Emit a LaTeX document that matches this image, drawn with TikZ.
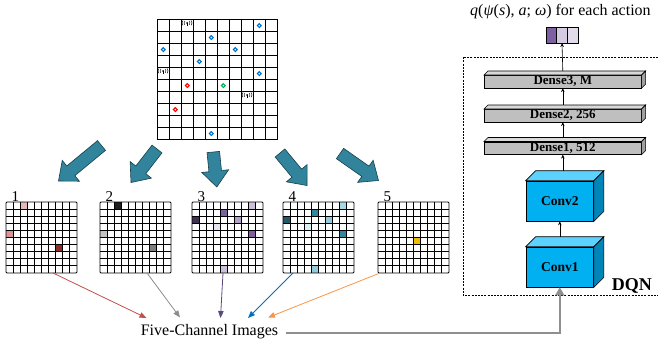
\documentclass[tikz,border=0pt]{standalone}
\usepackage{fontspec}
\setmainfont{Liberation Serif}
\usetikzlibrary{calc,arrows.meta}
\definecolor{tealarrow}{HTML}{31849B}
\definecolor{tealedge}{HTML}{17404B}
\definecolor{ringblue}{HTML}{0070C0}
\definecolor{ringred}{HTML}{FF0000}
\definecolor{ringgreen}{HTML}{00B050}
\definecolor{dfront}{HTML}{BFBFBF}
\definecolor{dtop}{HTML}{D9D9D9}
\definecolor{dside}{HTML}{A0A0A0}
\definecolor{cfront}{HTML}{00B0F0}
\definecolor{ctop}{HTML}{5CD2FF}
\definecolor{cside}{HTML}{0085B8}
\definecolor{lred}{HTML}{C0504D}
\definecolor{lgray}{HTML}{8C8C8C}
\definecolor{lpurple}{HTML}{5A4A7A}
\definecolor{lblue}{HTML}{0070C0}
\definecolor{lorange}{HTML}{F79646}
\definecolor{garrow}{HTML}{8F8F8F}
\definecolor{pA}{HTML}{E6B8B7}
\definecolor{pB}{HTML}{DA9694}
\definecolor{pC}{HTML}{8B2D2B}
\definecolor{gA}{HTML}{1E1E1E}
\definecolor{gB}{HTML}{C4C4C4}
\definecolor{gC}{HTML}{7F7F7F}
\definecolor{uA}{HTML}{CCC0DA}
\definecolor{uB}{HTML}{7E5FA2}
\definecolor{uC}{HTML}{403151}
\definecolor{uD}{HTML}{B3A2C7}
\definecolor{uE}{HTML}{E8E3F0}
\definecolor{tA}{HTML}{A8D8E6}
\definecolor{tB}{HTML}{31859C}
\definecolor{tC}{HTML}{215968}
\definecolor{tD}{HTML}{93CDDD}
\definecolor{tE}{HTML}{DCEFF4}
\definecolor{oA}{HTML}{F5B800}
\definecolor{vA}{HTML}{7E5FA2}
\definecolor{vB}{HTML}{D4CAE2}
\definecolor{vC}{HTML}{E2DBEC}
\tikzset{
  gridline/.style={line width=0.8pt},
  chline/.style={line width=0.9pt},
  blockarrow/.style={fill=tealarrow, draw=tealedge, line width=0.6pt, line join=miter},
  thinarrow/.style={line width=0.8pt, -{Triangle[length=7pt,width=5.5pt]}},
  dqnarrow/.style={line width=0.6pt, -{Stealth[length=4pt,width=3.5pt]}},
  ringmark/.style={line width=1.1pt},
  dense/.style={draw, fill=dfront, line width=0.6pt, minimum width=157pt, minimum height=12.5pt, inner sep=0pt, anchor=north west, font=\bfseries\fontsize{13}{13}\selectfont},
  convbox/.style={draw, fill=cfront, line width=0.6pt, minimum width=67.6pt, minimum height=40pt, inner sep=0pt, anchor=north west, font=\bfseries\fontsize{13.5}{13.5}\selectfont},
  chlabel/.style={anchor=base west, inner sep=0pt, font=\fontsize{15}{15}\selectfont},
}
\newcommand{\ringat}[3]{\draw[ringmark,#3] (157+#2*12+6.3, 19+#1*12+6.6) circle (1.9pt);}
\newcommand{\antennaat}[2]{%
  \begin{scope}[shift={(157+#2*12+6, 19+#1*12+4.2)}, line width=0.45pt]
    \fill (0,-0.3) circle (0.9pt);
    \draw (0,-0.3) -- (0,3.2);
    \draw (-2.2,-2.2) .. controls (-3.2,-0.3) .. (-2.2,1.6);
    \draw (-4,-2.8) .. controls (-5.4,-0.3) .. (-4,2.2);
    \draw (2.2,-2.2) .. controls (3.2,-0.3) .. (2.2,1.6);
    \draw (4,-2.8) .. controls (5.4,-0.3) .. (4,2.2);
  \end{scope}}
\newcommand{\cfill}[4]{\fill[#4] (#1+#3*7.1, 202+#2*7.1) rectangle ++(7.1,7.1);}
\newcommand{\chgrid}[2]{%
  \node[draw, chline, minimum width=71pt, minimum height=71pt, inner sep=0pt, outer sep=0pt, anchor=north west, rounded corners=1pt] (#1) at (#2,202) {};
  \foreach \i in {1,...,9} {
    \draw[chline] (#2+\i*7.1,202) -- (#2+\i*7.1,273);
    \draw[chline] (#2,202+\i*7.1) -- (#2+71,202+\i*7.1);
  }}
\newcommand{\tealarrow}[3]{%
  \coordinate (#1t) at #2;
  \coordinate (#1h) at #3;
  \coordinate (#1b) at ($(#1h)!16pt!(#1t)$);
  \path[blockarrow] ($(#1t)!6.3pt!90:(#1h)$) -- ($(#1b)!6.3pt!90:(#1h)$) -- ($(#1b)!13.5pt!90:(#1h)$) -- (#1h)
    -- ($(#1b)!13.5pt!-90:(#1h)$) -- ($(#1b)!6.3pt!-90:(#1h)$) -- ($(#1t)!6.3pt!-90:(#1h)$) -- cycle;}
\newcommand{\densebox}[3]{%
  \node[dense] (#1) at (484,#2) {#3};
  \draw[fill=dtop, line width=0.6pt] (#1.north west) -- ++(4,-4) -- ($(#1.north east)+(4,-4)$) -- (#1.north east) -- cycle;
  \draw[fill=dside, line width=0.6pt] (#1.north east) -- ++(4,-4) -- ($(#1.south east)+(4,-4)$) -- (#1.south east) -- cycle;}
\newcommand{\convcube}[3]{%
  \node[convbox] (#1) at (525.7,#2) {#3};
  \draw[fill=ctop, line width=0.6pt] (#1.north west) -- ++(10,-10) -- ($(#1.north east)+(10,-10)$) -- (#1.north east) -- cycle;
  \draw[fill=cside, line width=0.6pt] (#1.north east) -- ++(10,-10) -- ($(#1.south east)+(10,-10)$) -- (#1.south east) -- cycle;}
\begin{document}
\begin{tikzpicture}[x=1pt,y=-1pt]
\useasboundingbox (0,0) rectangle (658,345);
% ---------- environment grid ----------
\node[draw, gridline, minimum width=120pt, minimum height=120pt, inner sep=0pt, outer sep=0pt, anchor=north west] (env) at (157,19) {};
\foreach \i in {1,...,9} {
  \draw[gridline] (157+\i*12,19) -- (157+\i*12,139);
  \draw[gridline] (157,19+\i*12) -- (277,19+\i*12);
}
\antennaat{0}{2}
\antennaat{4}{0}
\antennaat{6}{7}
\ringat{0}{8}{ringblue}
\ringat{1}{4}{ringblue}
\ringat{2}{0}{ringblue}
\ringat{2}{6}{ringblue}
\ringat{3}{3}{ringblue}
\ringat{4}{8}{ringblue}
\ringat{9}{4}{ringblue}
\ringat{5}{2}{ringred}
\ringat{7}{1}{ringred}
\ringat{5}{5}{ringgreen}
% ---------- big teal arrows ----------
\tealarrow{a1}{(101.5,145.5)}{(58.5,181)}
\tealarrow{a2}{(157,149)}{(131,182.5)}
\tealarrow{a3}{(213.3,152)}{(216.8,187)}
\tealarrow{a4}{(280,153)}{(307,185.5)}
\tealarrow{a5}{(340,153.5)}{(378.5,180.5)}
% ---------- channel images ----------
\cfill{6}{0}{2}{pA}
\cfill{6}{4}{0}{pB}
\cfill{6}{6}{7}{pC}
\chgrid{ch1}{6}
\cfill{100}{0}{2}{gA}
\cfill{100}{4}{0}{gB}
\cfill{100}{6}{7}{gC}
\chgrid{ch2}{100}
\cfill{192}{0}{8}{uA}
\cfill{192}{1}{4}{uB}
\cfill{192}{2}{0}{uC}
\cfill{192}{2}{6}{uD}
\cfill{192}{3}{3}{uE}
\cfill{192}{4}{8}{uB}
\cfill{192}{9}{4}{uA}
\chgrid{ch3}{192}
\cfill{283}{0}{8}{tA}
\cfill{283}{1}{4}{tB}
\cfill{283}{2}{0}{tC}
\cfill{283}{2}{6}{tD}
\cfill{283}{3}{3}{tE}
\cfill{283}{4}{8}{tB}
\cfill{283}{9}{4}{tD}
\chgrid{ch4}{283}
\cfill{378}{5}{5}{oA}
\chgrid{ch5}{378}
\node[chlabel] (n1) at (11.5,201) {1};
\node[chlabel] (n2) at (105.5,201) {2};
\node[chlabel] (n3) at (197.5,201) {3};
\node[chlabel] (n4) at (288.5,201) {4};
\node[chlabel] (n5) at (383.5,201) {5};
% ---------- five-channel label and arrows ----------
\node[anchor=base, inner sep=0pt, font=\fontsize{16}{16}\selectfont] (fci) at (209.5,335) {Five-Channel Images};
\coordinate (e1) at (146.5,318);
\coordinate (e2) at (180,317.5);
\coordinate (e3) at (220.5,318);
\coordinate (e4) at (248,318);
\coordinate (e5) at (268,317.5);
\draw[thinarrow, lred] ($(ch1.south west)+(47,0)$) -- (e1);
\draw[thinarrow, lgray] ($(ch2.south west)+(47,0)$) -- (e2);
\draw[thinarrow, lpurple] ($(ch3.south west)+(31,0)$) -- (e3);
\draw[thinarrow, lblue] ($(ch4.south west)+(10,0)$) -- (e4);
\draw[thinarrow, lorange] ($(ch5.south west)+(2,0)$) -- (e5);
% ---------- DQN ----------
\draw[dashed, line width=0.6pt, dash pattern=on 2pt off 1.2pt] (658,57) -- (463,57) -- (463,295) -- (658,295);
\convcube{conv1}{246.7}{Conv1}
\convcube{conv2}{180.7}{Conv2}
\densebox{dense1}{141.5}{Dense1, 512}
\densebox{dense2}{109}{Dense2, 256}
\densebox{dense3}{75}{Dense3, M}
\node[draw, line width=0.6pt, minimum width=32pt, minimum height=16pt, inner sep=0pt, outer sep=0pt, anchor=north west] (out) at (546,27) {};
\fill[vA] (546,27) rectangle (556.7,43);
\fill[vB] (556.7,27) rectangle (567.3,43);
\fill[vC] (567.3,27) rectangle (578,43);
\draw[line width=0.6pt] (546,27) rectangle (578,43);
\draw[line width=0.6pt] (556.7,27) -- (556.7,43);
\draw[line width=0.6pt] (567.3,27) -- (567.3,43);
\node[anchor=base west, inner sep=0pt, font=\fontsize{16}{16}\selectfont] (qlab) at (470,15.5) {\textit{q}(\textit{ψ}(\textit{s}), \textit{a}; \textit{ω}) for each action};
\draw[dqnarrow] ($(conv1.north)+(0,-10)$) -- (conv2.south);
\draw[dqnarrow] ($(conv2.north)+(3,-10)$) -- (dense1.south);
\draw[dqnarrow] ($(dense1.north)+(0,-4)$) -- (dense2.south);
\draw[dqnarrow] ($(dense2.north)+(0,-4)$) -- (dense3.south);
\draw[dqnarrow] ($(dense3.north)+(0,-4)$) -- (out.south);
\node[anchor=base east, inner sep=0pt, font=\bfseries\fontsize{18}{18}\selectfont] (dqn) at (652,290) {DQN};
\draw[garrow, line width=1.5pt, -{Triangle[length=8pt,width=9pt]}] ([xshift=8pt,yshift=-2pt]fci.east) -| (conv1.south);
\end{tikzpicture}
\end{document}
